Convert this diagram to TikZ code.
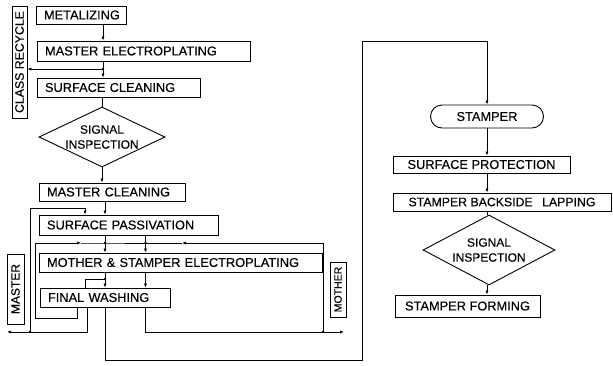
\documentclass[tikz,border=0pt]{standalone}
\usepackage{fontspec}
\setmainfont{Liberation Sans}[FakeBold=0.35]
\usetikzlibrary{shapes.geometric,arrows.meta}
\begin{document}
\begin{tikzpicture}[x=1pt,y=-1pt,
  every node/.style={font=\fontsize{12.8}{14}\selectfont},
  box/.style={draw, line width=0.9pt, inner xsep=8pt, inner ysep=0pt, align=left},
  cbox/.style={draw, line width=0.9pt, inner sep=0pt, align=center},
  vbox/.style={draw, line width=0.9pt, inner sep=0pt},
  dia/.style={draw, diamond, line width=0.9pt, inner sep=0pt},
  dlabel/.style={align=center, inner sep=0pt, font=\fontsize{12}{15}\selectfont},
  ln/.style={line width=0.8pt},
  arr/.style={ln, -{Latex[length=4pt,width=3.2pt]}},
]
\useasboundingbox (0,0) rectangle (613,365);

% ---- left column nodes
\node[vbox, minimum width=15pt, minimum height=112pt, font=\fontsize{12.3}{14}\selectfont] (cr) at (19.5,62) {\rotatebox{90}{CLASS RECYCLE}};
\node[box, text width=74pt, minimum height=18pt] (met) at (81,15) {METALIZING};
\node[box, text width=197pt, minimum height=20pt] (me) at (143.5,51) {MASTER ELECTROPLATING};
\node[box, text width=147pt, minimum height=19pt] (sc) at (118.5,87.5) {SURFACE CLEANING};
\node[dia, minimum width=126pt, minimum height=60pt, label={[dlabel]center:SIGNAL\\INSPECTION}] (d1) at (102,137) {};
\node[box, text width=130pt, minimum height=18pt] (mc) at (112,192) {MASTER CLEANING};
\node[box, text width=163pt, minimum height=20pt] (sp) at (128.5,225) {SURFACE PASSIVATION};
\node[box, text width=267pt, minimum height=19pt] (ms) at (180.5,262.5) {MOTHER \& STAMPER ELECTROPLATING};
\node[box, text width=114pt, minimum height=19pt] (fw) at (105,297.5) {FINAL WASHING};
\node[vbox, minimum width=17pt, minimum height=70pt, font=\fontsize{12}{14}\selectfont] (master) at (15.5,289) {\rotatebox{90}{MASTER}};
\node[vbox, minimum width=16pt, minimum height=55pt, font=\fontsize{10.5}{12}\selectfont] (mother) at (338,289.5) {\rotatebox{90}{MOTHER}};

% ---- right column nodes
\node[cbox, rounded corners=11.5pt, minimum width=113pt, minimum height=23pt] (st) at (487,116.5) {STAMPER};
\node[cbox, minimum width=177pt, minimum height=17pt] (sp2) at (481.5,164.5) {SURFACE PROTECTION};
\node[cbox, minimum width=218pt, minimum height=18pt, font=\fontsize{12.3}{14}\selectfont] (sbl) at (502,202) {STAMPER BACKSIDE\hspace{6pt} LAPPING};
\node[dia, minimum width=132pt, minimum height=70pt, label={[dlabel]center:SIGNAL\\INSPECTION}] (d2) at (489,250) {};
\node[cbox, minimum width=145pt, minimum height=22pt] (sf) at (467.5,306) {STAMPER FORMING};

% ---- column and junction coordinates
\coordinate (xa) at (103,0);
\coordinate (xb) at (105,0);
\coordinate (xc) at (145.5,0);
\coordinate (xd) at (77,0);
\coordinate (xe) at (87,0);
\coordinate (xf) at (85,0);
\coordinate (xr) at (487,0);
\coordinate (j1) at (103,69);
\coordinate (j2) at (105,243);
\coordinate (j3) at (145.5,243);
\coordinate (j4) at (105,279);
\coordinate (j5) at (323,332);
\coordinate (j6) at (30,332);
\coordinate (a1) at (81,243);
\coordinate (a2) at (182,243);
\coordinate (mout) at (7,332);
\coordinate (mo) at (344,332);

% ---- left column connectors
\draw[arr] (xa |- met.south) -- (xa |- me.north);
\draw[arr] (xa |- me.south) -- (xa |- sc.north);
\draw[arr] (j1) -- (cr.east |- j1);
\draw[ln] (d1.north |- sc.south) -- (d1.north);
\draw[arr] (d1.south) -- (d1.south |- mc.north);
\draw[arr] (xb |- mc.south) -- (xb |- sp.north);
\draw[arr] (xb |- sp.south) -- (xb |- ms.north);
\draw[arr] (xc |- sp.south) -- (xc |- ms.north);
\draw[arr] (xb |- ms.south) -- (xb |- fw.north);
\draw[arr] (xc |- ms.south) -- (xc |- fw.north);
\draw[ln] (xf |- fw.north) -- (85,279) -- (j4);

% master out and recycle to passivation
\draw[arr] (xe |- fw.south) -- (87,332) -- (mout);
\draw[arr] (j6) -- (30,208) -- (85,208) -- (xf |- sp.north);

% master back to electroplating
\draw[arr] (xd |- fw.south) -- (77,318) -- (35,318) -- (35,243) -- (a1);
\draw[ln] (a1) -- (j2) -- (j3);

% mother out and back to electroplating
\draw[ln] (xc |- fw.south) -- (145.5,332) -- (j5);
\draw[arr] (j5) -- (mo);
\draw[arr] (j5) -- (323,243) -- (a2);
\draw[ln] (a2) -- (j3);

% stamper path
\draw[arr] (xb |- fw.south) -- (105,360) -- (362,360) -- (362,41) -- (st.north |- 0,41) -- (st.north);

% ---- right column connectors
\draw[arr] (st.south) -- (st.south |- sp2.north);
\draw[arr] (xr |- sp2.south) -- (xr |- sbl.north);
\draw[ln] (xr |- sbl.south) -- (xr |- d2.north);
\draw[arr] (xr |- d2.south) -- (xr |- sf.north);

% ---- junction dots
\foreach \j in {j1,j2,j3,j4,j5,j6} \fill (\j) circle (1.4pt);
\end{tikzpicture}
\end{document}
